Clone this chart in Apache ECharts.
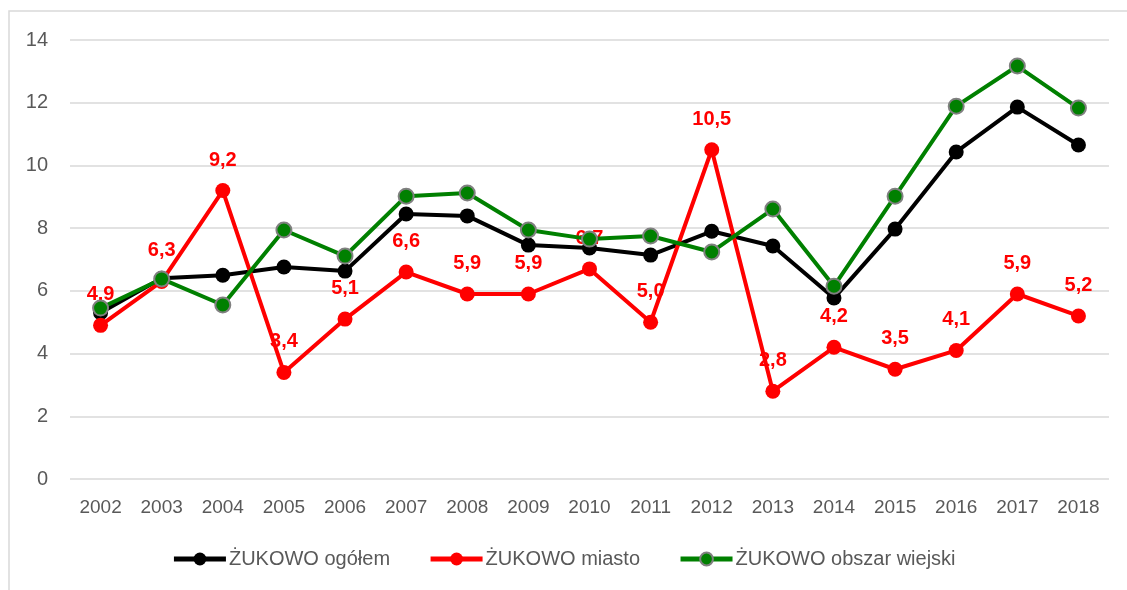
<!DOCTYPE html>
<html><head><meta charset="utf-8">
<script src="https://cdn.jsdelivr.net/npm/echarts@6/dist/echarts.min.js"></script>
<style>html,body{margin:0;padding:0;background:#fff}#c{width:1127px;height:590px}</style>
</head><body><div id="c"></div>
<script>
const years = ['2002','2003','2004','2005','2006','2007','2008','2009','2010','2011','2012','2013','2014','2015','2016','2017','2018'];
const ogolem = [5.3,6.4,6.5,6.76,6.63,8.45,8.39,7.46,7.37,7.14,7.9,7.43,5.77,7.97,10.43,11.86,10.65];
const miasto = [4.9,6.3,9.2,3.4,5.1,6.6,5.9,5.9,6.7,5.0,10.5,2.8,4.2,3.5,4.1,5.9,5.2];
const wiejski = [5.45,6.38,5.55,7.94,7.11,9.02,9.12,7.94,7.65,7.75,7.24,8.61,6.15,9.02,11.89,13.17,11.83];
const names = ['ŻUKOWO ogółem','ŻUKOWO miasto','ŻUKOWO obszar wiejski'];
const font = '"Liberation Sans Narrow","Arial Narrow","Liberation Sans",Arial,sans-serif';
const chart = echarts.init(document.getElementById('c'));
chart.setOption({
  animation:false,
  graphic:[{type:'rect',shape:{x:9,y:11,width:1140,height:600},style:{fill:'none',stroke:'#d9d9d9',lineWidth:1.5},silent:true}],
  grid:{left:70,right:18,top:40,bottom:111},
  legend:{bottom:16,left:'center',itemWidth:52,itemHeight:16,itemGap:38,
    lineStyle:{width:5},
    textStyle:{fontFamily:font,fontSize:20,color:'#595959',padding:[0,0,0,-2]},data:names},
  xAxis:{type:'category',data:years,boundaryGap:true,
    axisLine:{show:false},axisTick:{show:false},
    axisLabel:{fontFamily:font,fontSize:19,color:'#595959',margin:19}},
  yAxis:{type:'value',min:0,max:14,interval:2,
    axisLine:{show:false},axisTick:{show:false},
    splitLine:{lineStyle:{color:'#d9d9d9',width:1.5}},
    axisLabel:{fontFamily:font,fontSize:20,color:'#595959',margin:22}},
  series:[
    {name:names[0],type:'line',data:ogolem,symbol:'circle',symbolSize:15,z:3,
     lineStyle:{color:'#000',width:4},itemStyle:{color:'#000'}},
    {name:names[1],type:'line',data:miasto,symbol:'circle',symbolSize:15,z:4,
     lineStyle:{color:'#ff0000',width:4},itemStyle:{color:'#ff0000'},
     label:{show:true,position:'top',distance:13,color:'#ff0000',fontWeight:'bold',fontFamily:font,fontSize:20,
       formatter:p=>p.value.toFixed(1).replace('.',',')}},
    {name:names[2],type:'line',data:wiejski,symbol:'circle',symbolSize:15,z:5,
     lineStyle:{color:'#008000',width:4},itemStyle:{color:'#008000',borderColor:'#808080',borderWidth:2}}
  ]
});
</script></body></html>
